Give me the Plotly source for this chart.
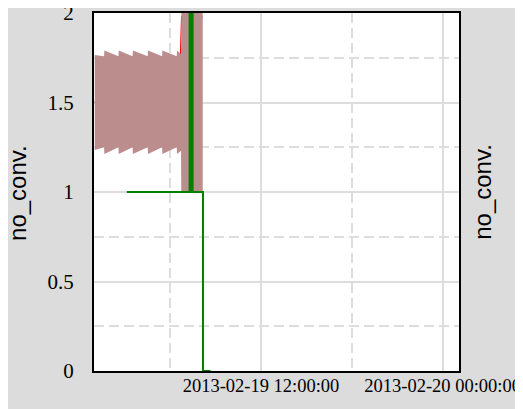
import plotly.graph_objects as go

# ---- data ----
env_times = ["2013-02-19 01:01", "2013-02-19 01:38", "2013-02-19 01:39", "2013-02-19 02:35",
             "2013-02-19 02:36", "2013-02-19 03:31", "2013-02-19 03:32", "2013-02-19 04:31",
             "2013-02-19 04:32", "2013-02-19 05:28", "2013-02-19 05:29", "2013-02-19 06:26",
             "2013-02-19 06:27", "2013-02-19 06:43", "2013-02-19 06:44", "2013-02-19 08:09"]
env_upper = [1.765, 1.758, 1.79, 1.758, 1.79, 1.758, 1.79, 1.758, 1.79, 1.758, 1.79, 1.758,
             1.79, 1.77, 2.0, 2.0]
env_lower = [1.235, 1.25, 1.212, 1.25, 1.212, 1.25, 1.212, 1.25, 1.212, 1.25, 1.212, 1.25,
             1.212, 1.23, 1.0, 1.0]

raw_times = ["2013-02-19 01:02", "2013-02-19 01:45", "2013-02-19 02:40", "2013-02-19 03:35",
             "2013-02-19 04:35", "2013-02-19 05:30", "2013-02-19 06:30", "2013-02-19 06:45",
             "2013-02-19 07:10", "2013-02-19 07:40", "2013-02-19 08:08"]
raw_values = [1.5, 1.7, 1.3, 1.7, 1.3, 1.7, 1.3, 1.98, 1.05, 1.9, 1.98]

green_times = ["2013-02-19 03:08", "2013-02-19 07:17", "2013-02-19 07:17", "2013-02-19 07:21",
               "2013-02-19 07:21", "2013-02-19 07:25", "2013-02-19 07:25", "2013-02-19 07:29",
               "2013-02-19 07:29", "2013-02-19 07:33", "2013-02-19 07:33", "2013-02-19 08:10",
               "2013-02-19 08:10", "2013-02-19 08:40"]
green_values = [1, 1, 2, 2, 1, 1, 2, 2, 1, 1, 1, 1, 0, 0]

x_range = ["2013-02-19 00:58", "2013-02-20 01:05"]
y_range = [0, 2]
y_ticks = [0, 0.5, 1, 1.5, 2]
y_title = "no_conv."

# ---- figure ----
fig = go.Figure()
fig.add_trace(go.Scatter(x=raw_times, y=raw_values, mode="lines",
                         line=dict(color="red", width=1), showlegend=False))
fig.add_trace(go.Scatter(x=env_times, y=env_lower, mode="lines",
                         line=dict(width=0, color="rgba(0,0,0,0)"), showlegend=False))
fig.add_trace(go.Scatter(x=env_times, y=env_upper, mode="lines", fill="tonexty",
                         fillcolor="rgb(188,141,141)",
                         line=dict(width=0, color="rgba(0,0,0,0)"), showlegend=False))
fig.add_trace(go.Scatter(x=green_times, y=green_values, mode="lines",
                         line=dict(color="#008000", width=2), showlegend=False,
                         yaxis="y2"))

grid = "#dddddd"
# the page body has an 8px margin, so the figure is 8px smaller and shifted
fig.update_layout(
    width=515, height=401,
    margin=dict(l=86, r=64, t=5, b=38, autoexpand=False),
    paper_bgcolor="#dcdcdc", plot_bgcolor="white",
    showlegend=False,
    font=dict(family="Liberation Serif", size=21, color="black"),
    yaxis2=dict(overlaying="y", side="right", range=y_range, automargin=False,
                showgrid=False, showticklabels=False, ticks="", zeroline=False,
                showline=False,
                title=dict(text=y_title,
                           font=dict(family="Liberation Sans", size=24, color="black"))),
)
fig.update_xaxes(
    type="date", range=x_range, automargin=False,
    tick0="2013-02-19 00:00:00", dtick=12 * 3600 * 1000,
    tickformat="%Y-%m-%d %H:%M:%S",
    showgrid=True, gridcolor=grid, gridwidth=2,
    minor=dict(dtick=6 * 3600 * 1000, tick0="2013-02-19 00:00:00", showgrid=True,
               gridcolor=grid, gridwidth=2, griddash="10px,5px"),
    showline=True, mirror=True, linecolor="black", linewidth=2,
    ticks="", ticklabelstandoff=-3, ticklabeloverflow="allow",
    tickfont=dict(family="Liberation Serif", size=18.5),
    zeroline=False,
)
fig.update_layout(yaxis=dict(
    range=y_range, tickvals=y_ticks, automargin=False,
    showgrid=True, gridcolor=grid, gridwidth=2,
    minor=dict(dtick=0.25, tick0=0, showgrid=True, gridcolor=grid, gridwidth=2,
               griddash="10px,5px"),
    showline=True, mirror=True, linecolor="black", linewidth=2,
    ticks="", ticklabelstandoff=14, ticklabeloverflow="allow",
    tickfont=dict(family="Liberation Serif", size=21),
    zeroline=False,
))
fig.add_annotation(text=y_title, textangle=-90, xref="paper", yref="paper",
                   x=-0.209, y=0.4965, xanchor="center", yanchor="middle", showarrow=False,
                   font=dict(family="Liberation Sans", size=24, color="black"))

fig.write_html("out.html")
